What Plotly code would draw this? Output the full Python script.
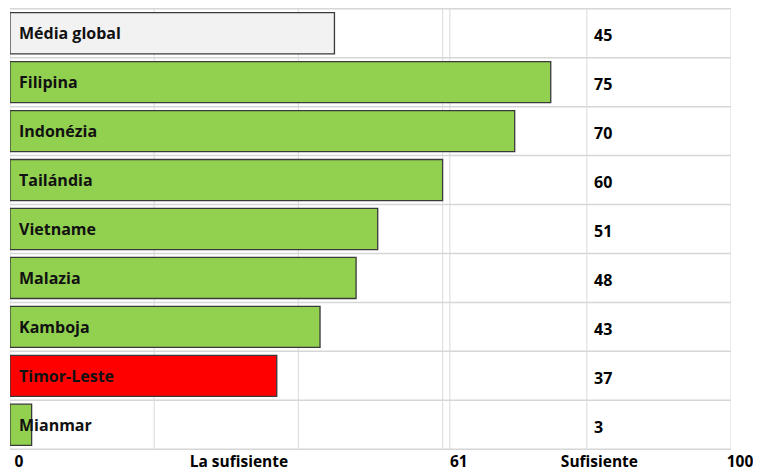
import plotly.graph_objects as go

categories = ["Média global", "Filipina", "Indonézia", "Tailándia", "Vietname",
              "Malazia", "Kamboja", "Timor-Leste", "Mianmar"]
values = [45, 75, 70, 60, 51, 48, 43, 37, 3]
bar_colors = ["#f2f2f2", "#92d050", "#92d050", "#92d050", "#92d050",
              "#92d050", "#92d050", "#ff0000", "#92d050"]
tick_vals = [0, 30.5, 61, 80.5, 100]
tick_text = ["0", "La sufisiente", "61", "Sufisiente", "100"]
grid_vals = [0, 20, 40, 60, 61, 80, 100]
value_label_x = 80

FONT = "Open Sans"

fig = go.Figure()
fig.add_trace(go.Bar(
    x=values, y=categories, orientation="h",
    marker=dict(color=bar_colors, line=dict(color="#3a3a3a", width=1.3)),
    width=0.84, hoverinfo="x+y", showlegend=False,
))

# Category labels inside bars
for c in categories:
    fig.add_annotation(x=0, y=c, xref="x", yref="y", text=f"<b>{c}</b>",
                       showarrow=False, xanchor="left", xshift=7,
                       font=dict(family=FONT, size=16, color="#111111"))
# Value labels
for c, v in zip(categories, values):
    fig.add_annotation(x=value_label_x, y=c, xref="x", yref="y", text=f"<b>{v}</b>",
                       showarrow=False, xanchor="left", xshift=5, yshift=-2,
                       font=dict(family=FONT, size=16, color="#000000"))

shapes = []
for g in grid_vals:
    shapes.append(dict(type="line", xref="x", yref="paper", x0=g, x1=g, y0=0, y1=1,
                       line=dict(color="#e0e0e0", width=1.2), layer="below"))
n = len(categories)
for i in range(n + 1):
    shapes.append(dict(type="line", xref="x", yref="y", x0=0, x1=100,
                       y0=i - 0.5, y1=i - 0.5,
                       line=dict(color="#d6d6d6", width=1.5), layer="below"))
fig.update_layout(shapes=shapes)

fig.update_layout(
    width=753, height=465,
    margin=dict(l=2, r=30, t=0, b=23, autoexpand=False),
    plot_bgcolor="white", paper_bgcolor="white",
    bargap=0.16,
    xaxis=dict(range=[0, 100], tickvals=tick_vals, ticktext=[f"<b>{t}</b>" for t in tick_text],
               showgrid=False, zeroline=False, showline=False, ticks="",
               ticklabelshift=9, ticklabelstandoff=0, ticklabeloverflow="allow",
               tickfont=dict(family=FONT, size=15.5, color="#000000")),
    yaxis=dict(categoryorder="array", categoryarray=categories, autorange="reversed",
               range=[n - 0.5, -0.5], showticklabels=False, showgrid=False,
               zeroline=False, showline=False, ticks=""),
)

fig.write_html("out.html")
